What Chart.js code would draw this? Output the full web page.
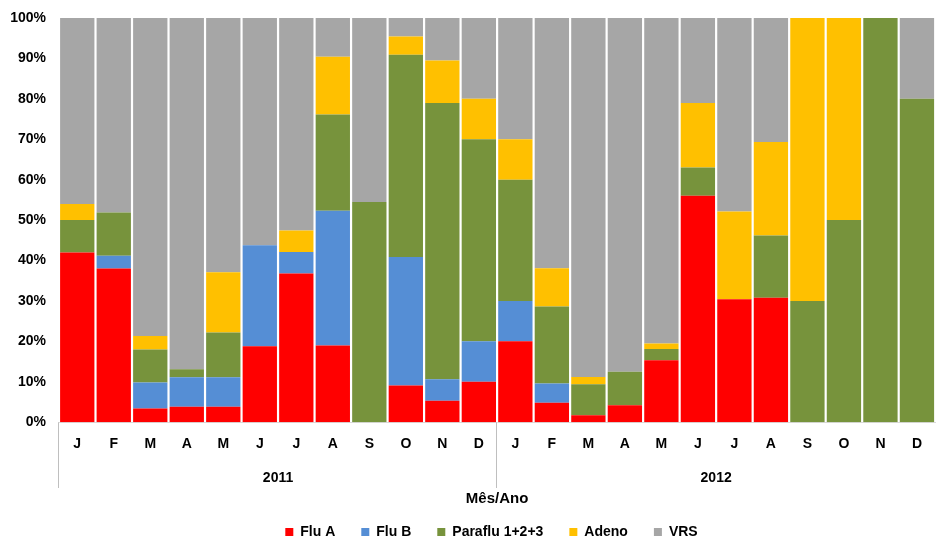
<!DOCTYPE html>
<html lang="pt">
<head>
  <meta charset="UTF-8">
  <title>Vírus respiratórios por mês</title>
  <script src="https://cdn.jsdelivr.net/npm/chart.js"></script>
  <style>
    html, body { margin: 0; padding: 0; background: #fff; }
    #wrap { width: 936px; height: 538px; }
  </style>
</head>
<body>
  <div id="wrap"><canvas id="chart"></canvas></div>
  <script>
    // categories
    const months = ['J','F','M','A','M','J','J','A','S','O','N','D',
                    'J','F','M','A','M','J','J','A','S','O','N','D'];
    const years = ['2011', '2012'];

    // series values (% of positives per month)
    const fluA    = [42, 38, 3.4, 3.8, 3.8, 18.8, 36.8, 19, 0, 9.1, 5.3, 10,
                     20, 4.8, 1.7, 4.2, 15.3, 56, 30.4, 30.8, 0, 0, 0, 0];
    const fluB    = [0, 3.2, 6.4, 7.3, 7.3, 25, 5.3, 33.3, 0, 31.8, 5.3, 10,
                     10, 4.8, 0, 0, 0, 0, 0, 0, 0, 0, 0, 0];
    const paraflu = [8, 10.7, 8.2, 2, 11.1, 0, 0, 23.8, 54.5, 50, 68.4, 50,
                     30, 19, 7.7, 8.3, 2.8, 7, 0, 15.4, 30, 50, 100, 80];
    const adeno   = [4, 0, 3.3, 0, 14.9, 0, 5.3, 14.3, 0, 4.5, 10.5, 10,
                     10, 9.5, 1.8, 0, 1.4, 16, 21.7, 23.1, 70, 50, 0, 0];
    const vrs     = [46, 48.1, 78.7, 86.9, 62.9, 56.2, 52.6, 9.6, 45.5, 4.6, 10.5, 20,
                     30, 61.9, 88.8, 87.5, 80.5, 21, 47.9, 30.7, 0, 0, 0, 20];

    const yTicks = [0, 10, 20, 30, 40, 50, 60, 70, 80, 90, 100];

    const font = 'Arial, "Liberation Sans", sans-serif';

    // vertical separators between the year groups, below the plot
    const yearDividers = {
      id: 'yearDividers',
      afterDraw(chart) {
        const ctx = chart.ctx;
        const x = chart.scales.x;
        const x2 = chart.scales.x2;
        const top = chart.chartArea.bottom;
        const bottom = x2.top + 21;
        const mid = (x.getPixelForValue(11) + x.getPixelForValue(12)) / 2;
        ctx.save();
        ctx.strokeStyle = '#bfbfbf';
        ctx.lineWidth = 1;
        [x.left, mid].forEach(px => {
          ctx.beginPath();
          ctx.moveTo(Math.round(px) - 0.5, top);
          ctx.lineTo(Math.round(px) - 0.5, bottom);
          ctx.stroke();
        });
        ctx.restore();
      }
    };

    // compact legend, centred under the plot area instead of the canvas
    const legendTweak = {
      id: 'legendTweak',
      afterInit(chart) {
        const lg = chart.legend;
        const origFit = lg.fit;
        lg.fit = function () {
          origFit.call(this);
          this.height = 39;
        };
        const origDraw = lg.draw;
        lg.draw = function () {
          const shift = (chart.chartArea.left) / 2 - 6;
          this.ctx.save();
          this.ctx.translate(shift, 0);
          origDraw.call(this);
          this.ctx.restore();
        };
      }
    };

    const ds = (label, data, color) => ({
      label, data,
      backgroundColor: color,
      borderWidth: 0,
      barPercentage: 0.94,
      categoryPercentage: 1.0
    });

    new Chart(document.getElementById('chart'), {
      type: 'bar',
      data: {
        labels: months,
        datasets: [
          ds('Flu A', fluA, '#ff0000'),
          ds('Flu B', fluB, '#558ed5'),
          ds('Paraflu 1+2+3', paraflu, '#77933c'),
          ds('Adeno', adeno, '#ffc000'),
          ds('VRS', vrs, '#a6a6a6')
        ]
      },
      options: {
        responsive: true,
        maintainAspectRatio: false,
        animation: false,
        layout: { padding: { top: 18, right: 0, left: 0, bottom: 0 } },
        plugins: {
          tooltip: { enabled: false },
          legend: {
            position: 'bottom',
            labels: {
              boxWidth: 8,
              boxHeight: 8,
              padding: 26,
              color: '#000',
              font: { family: font, size: 14, weight: 'bold' }
            }
          }
        },
        scales: {
          x: {
            stacked: true,
            weight: 0,
            grid: { display: false, drawTicks: false },
            border: { display: true, color: '#d9d9d9' },
            ticks: {
              color: '#000',
              padding: 14,
              maxRotation: 0,
              autoSkip: false,
              font: { family: font, size: 14, weight: 'bold' }
            }
          },
          x2: {
            type: 'category',
            labels: years,
            position: 'bottom',
            weight: 1,
            offset: true,
            grid: { display: false, drawTicks: false },
            border: { display: false },
            afterFit: axis => { axis.height = 32; },
            ticks: {
              color: '#000',
              padding: 3,
              font: { family: font, size: 14, weight: 'bold' }
            },
            title: {
              display: true,
              text: 'Mês/Ano',
              color: '#000',
              padding: { top: 0, bottom: -9 },
              font: { family: font, size: 15, weight: 'bold' }
            }
          },
          y: {
            stacked: true,
            min: 0,
            max: 100,
            grid: { display: false, drawTicks: false },
            border: { display: false },
            afterFit: axis => {
              axis.width = 59;
              axis.paddingTop = 0;
              axis.paddingBottom = 0;
            },
            afterBuildTicks: axis => { axis.ticks = yTicks.map(v => ({ value: v })); },
            ticks: {
              color: '#000',
              padding: 13,
              callback: v => v + '%',
              font: { family: font, size: 14, weight: 'bold' }
            }
          }
        }
      },
      plugins: [yearDividers, legendTweak]
    });
  </script>
</body>
</html>
